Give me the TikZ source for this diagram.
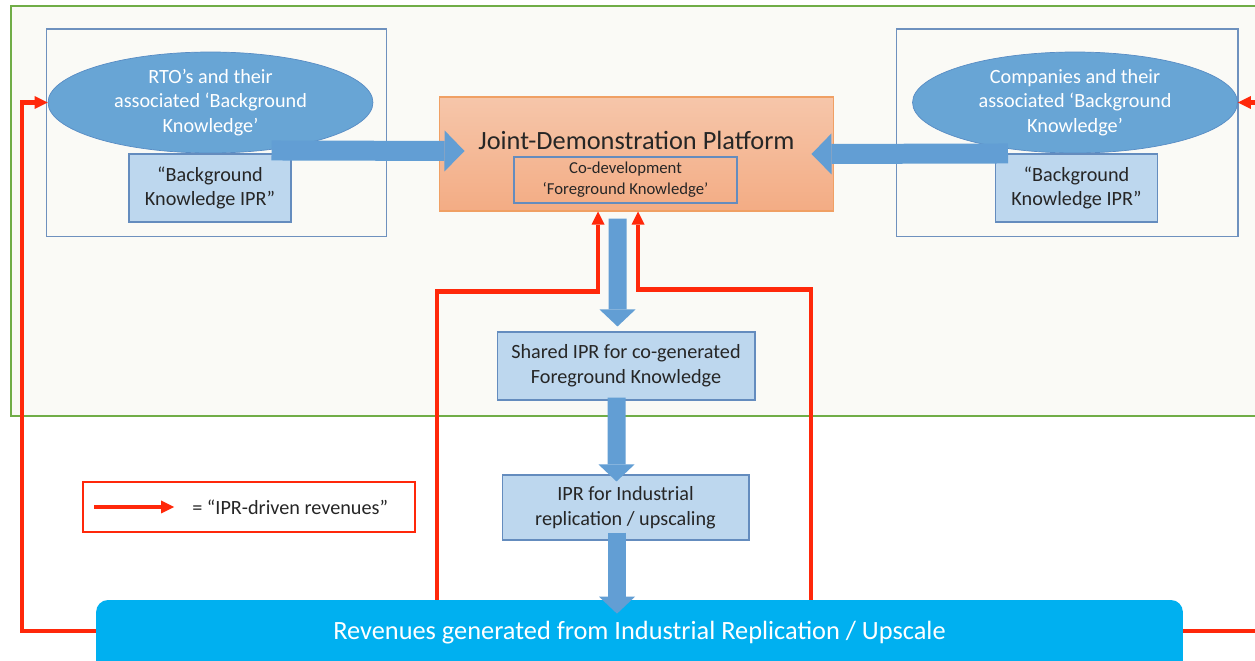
\documentclass[tikz,border=0pt]{standalone}
\usepackage{fontspec}
\setmainfont{Carlito}
\usetikzlibrary{arrows.meta,positioning,calc,shapes.geometric}

\definecolor{framegreen}{RGB}{112,173,71}
\definecolor{framefill}{RGB}{250,250,246}
\definecolor{boxline}{RGB}{110,145,190}
\definecolor{ellfill}{RGB}{104,165,213}
\definecolor{ellborder}{RGB}{88,140,196}
\definecolor{iprfill}{RGB}{189,215,238}
\definecolor{iprborder}{RGB}{100,140,190}
\definecolor{orangetop}{RGB}{246,198,170}
\definecolor{orangebot}{RGB}{243,172,132}
\definecolor{orangeline}{RGB}{240,160,100}
\definecolor{arrowblue}{RGB}{98,158,212}
\definecolor{revred}{RGB}{255,40,10}
\definecolor{barblue}{RGB}{0,176,240}
\definecolor{darktext}{RGB}{38,38,38}

\newcommand{\diagfont}{\fontsize{11.5}{14}\selectfont}
\newcommand{\bigdiagfont}{\fontsize{15}{18}\selectfont}

\begin{document}
\begin{tikzpicture}[
  x=0.02cm,y=-0.02cm,
  group/.style={draw=boxline,line width=0.6pt,minimum width=6.82cm,minimum height=4.16cm},
  party/.style={ellipse,draw=ellborder,fill=ellfill,text=white,align=center,font=\diagfont,
    minimum width=6.5cm,minimum height=2.02cm,inner sep=0pt},
  ipr/.style={draw=iprborder,fill=iprfill,line width=0.6pt,align=center,text=darktext,font=\diagfont,inner sep=0pt},
  platform/.style={draw=orangeline,top color=orangetop,bottom color=orangebot,line width=0.6pt,
    minimum width=7.9cm,minimum height=2.28cm},
  codev/.style={draw=iprborder,line width=0.6pt,align=center,text=darktext,font=\fontsize{9.5}{12}\selectfont,
    minimum width=4.46cm,minimum height=0.92cm,inner sep=0pt},
  fatarrow/.style={line width=0.4cm,draw=arrowblue,-{Triangle[width=0.82cm,length=0.4cm,line width=0pt]}},
  fatdown/.style={line width=0.36cm,draw=arrowblue,-{Triangle[width=0.72cm,length=0.34cm,line width=0pt]}},
  revarrow/.style={draw=revred,line width=2.4pt,-{Triangle[width=0.26cm,length=0.26cm,line width=0pt]}},
  revbar/.style={fill=barblue,rounded corners=0.24cm,minimum width=21.74cm,minimum height=1.6cm}
]
  % Canvas and outer frame
  \fill[white] (0,0) rectangle (1255,661);
  \clip (0,0) rectangle (1255,661);
  \draw[draw=framegreen,fill=framefill,line width=0.6pt] (11,6) rectangle (1275,416);

  % Partner groups
  \node[group] (rtogrp) at (216.5,133) {};
  \node[group,minimum width=6.84cm] (compgrp) at (1067,133) {};
  \node[party] (rtoell) at (210.5,102.5) {RTO’s and their\\associated ‘Background\\Knowledge’};
  \node[party] (compell) at (1075,102.5) {Companies and their\\associated ‘Background\\Knowledge’};
  \node[ipr,minimum width=3.24cm,minimum height=1.36cm] (rtoipr) at (210,188) {“Background\\Knowledge IPR”};
  \node[ipr,minimum width=3.24cm,minimum height=1.36cm] (compipr) at (1076.5,188) {“Background\\Knowledge IPR”};

  % Platform
  \node[platform] (platform) at (636.5,154) {};
  \node[font=\bigdiagfont,text=darktext] (ptitle) at (636.5,140) {Joint-Demonstration Platform};
  \node[codev] (codev) at (625.5,180) {Co-development\\‘Foreground Knowledge’};

  % IPR chain
  \node[ipr,minimum width=5.16cm,minimum height=1.36cm] (shared) at (626,366) {Shared IPR for co-generated\\Foreground Knowledge};
  \node[ipr,minimum width=4.94cm,minimum height=1.3cm] (indipr) at (625.5,507.5) {IPR for Industrial\\replication / upscaling};

  % Revenues
  \node[revbar] (rev) at (639.5,640) {};
  \node[font=\bigdiagfont,text=white] (revtext) at (639.5,633) {Revenues generated from Industrial Replication / Upscale};

  % Revenue loops
  \draw[revarrow] ($(rev.north west)+(0,31)$) -| ($(rtoell.west)+(-26,0)$) -- (rtoell.west);
  \draw[revarrow] ($(rev.north east)+(0,31)$) -| ($(compell.east)+(35,0)$) -- (compell.east);
  \draw[revarrow] ($(rev.north west)+(341,0)$) |- ($(platform.south)+(-38.5,80)$) -- ($(platform.south)+(-38.5,0)$);
  \draw[revarrow] ($(rev.north west)+(715,0)$) |- ($(platform.south)+(1.5,78)$) -- ($(platform.south)+(1.5,0)$);

  % Knowledge flows
  \draw[fatarrow] ($(rtoipr.north east)+(-20,-3)$) -- ($(platform.west)+(26,-3)$);
  \draw[fatarrow] ($(compipr.north west)+(13,0)$) -- ($(platform.east)+(-23,0)$);
  \draw[fatdown] ($(platform.south)+(-19,7)$) -- ($(shared.north)+(-8.5,-5)$);
  \draw[fatdown] ($(shared.south)+(-9.5,-3)$) -- ($(indipr.north)+(-9,7)$);
  \draw[fatdown] ($(indipr.south)+(-8.5,-8)$) -- ($(rev.north)+(-22.5,14)$);

  % Legend
  \node[draw=revred,line width=1pt,minimum width=6.64cm,minimum height=1cm] (legend) at (249,507) {};
  \draw[revarrow] ($(legend.west)+(12,0)$) -- ++(80,0);
  \node[anchor=west,font=\diagfont,text=darktext] (legtext) at ($(legend.west)+(104,0)$) {= “IPR-driven revenues”};
\end{tikzpicture}
\end{document}
